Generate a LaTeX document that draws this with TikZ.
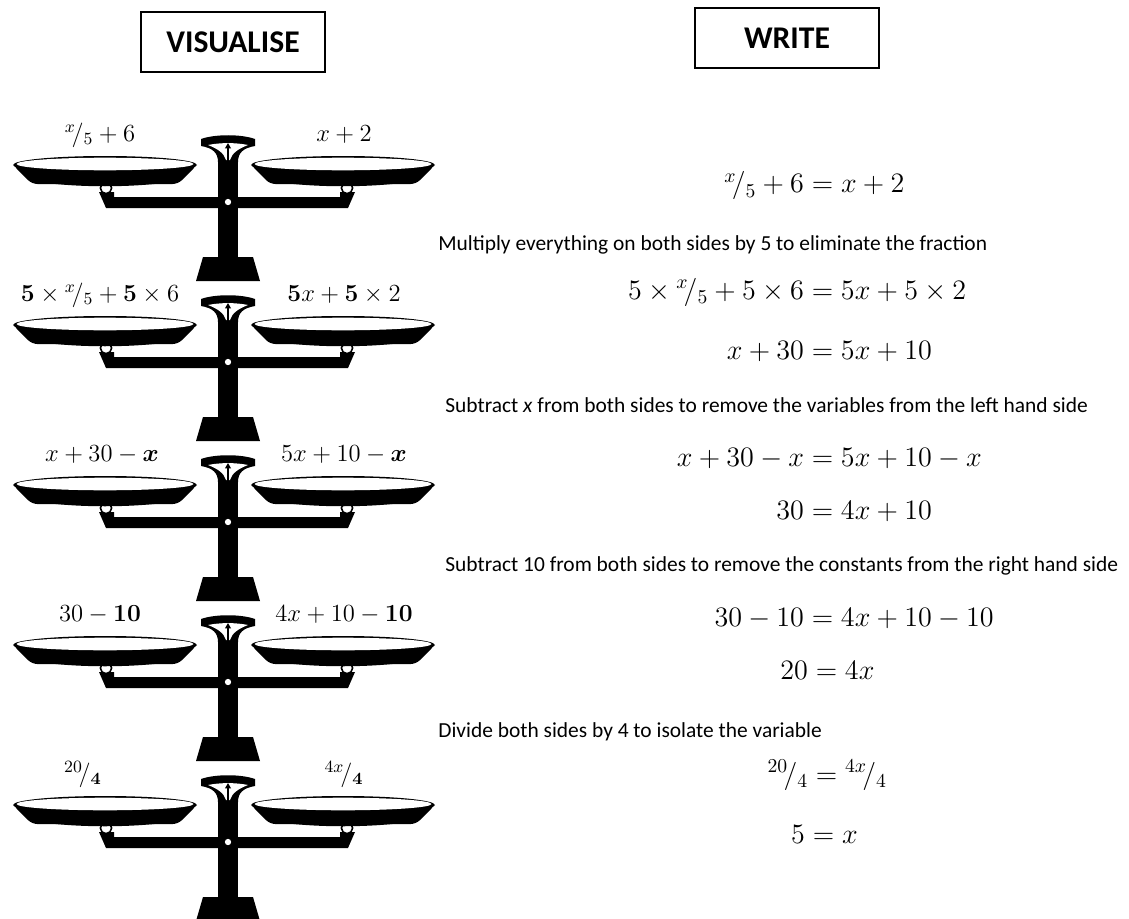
\RequirePackage{fix-cm}
\documentclass[tikz,border=0pt]{standalone}
\usepackage{amsmath}
\usepackage[no-math]{fontspec}
\setmainfont{Carlito}
\usetikzlibrary{arrows.meta}

% slanted fraction a/b
\newcommand{\slfrac}[2]{{}^{#1}\!/_{#2}}
% one line of working, lined up on its equals sign
\newcommand{\eqline}[2]{\makebox[0pt][r]{$#1{}$}\makebox[0pt][l]{${}=#2$}}

\begin{document}
\begin{tikzpicture}[
    x=0.02cm, y=-0.02cm,
    heading/.style={
        draw=black, line width=1.1pt,
        minimum width=3.68cm, minimum height=1.2cm,
        font=\fontsize{18}{21}\selectfont\bfseries},
    panlabel/.style={anchor=base, font=\fontsize{14}{16}\selectfont},
    equation/.style={anchor=base, inner sep=0pt, font=\fontsize{16}{19}\selectfont},
    hint/.style={anchor=west, inner sep=0pt, font=\fontsize{12.2}{14}\selectfont}]
  \useasboundingbox (0,0) rectangle (1129,919);

  \node[heading] (visualise) at (233,42) {VISUALISE};
  \node[heading] (write) at (787,38) {WRITE};

  % five balances, one under the other
  \foreach \k in {0,...,4}{
    \begin{scope}[shift={(0,160*\k)}]
      % foot and post
      \fill (203,257) -- (253,257) -- (260,281) -- (196,281) -- cycle;
      \fill (218,150) rectangle (238,257);
      % beam with its two end pieces
      \fill (99,192) -- (114,192) -- (114,197) -- (340,197) -- (340,192)
            -- (355,192) -- (348,208) -- (106,208) -- cycle;
      \fill[white] (228,202) circle (1.8pt);
      % knobs under the pans
      \filldraw[fill=white, line width=0.9pt] (106,188) circle (3.2pt);
      \filldraw[fill=white, line width=0.9pt] (347,188) circle (3.2pt);
      % pans
      \foreach \c in {105,343}{
        \fill[rounded corners=3pt] (\c-92,165) -- (\c-73,184)
              -- (\c+73,184) -- (\c+92,165) -- cycle;
        \fill (\c-73,181) .. controls (\c-30,188) and (\c+30,188) .. (\c+73,181) -- cycle;
        \fill (\c,165) ellipse [x radius=92, y radius=9];
        \fill[white] (\c,164) ellipse [x radius=88.5, y radius=6.3];
      }
      % pointer cup on top of the post
      \fill (201,139) .. controls (215,134) and (241,134) .. (255,139)
            -- (255,146) .. controls (243,148) and (238,153) .. (238,162)
            -- (218,162) .. controls (218,153) and (213,148) .. (201,146) -- cycle;
      \fill[white] (208,145) .. controls (220,142.5) and (236,142.5) .. (248,145)
            .. controls (238,149) and (232,153) .. (230,160) -- (226,160)
            .. controls (224,153) and (218,149) .. (208,145) -- cycle;
      \draw[line width=0.8pt, -{Triangle[length=3pt,width=3.2pt]}] (228,161) -- (228,143);
    \end{scope}
  }

  % what sits in each pan
  \node[panlabel] (l1) at (100,141) {$\slfrac{x}{5}+6$};
  \node[panlabel] (r1) at (344,141) {$x+2$};
  \node[panlabel] (l2) at (100,301) {$\mathbf{5}\times\slfrac{x}{5}+\mathbf{5}\times 6$};
  \node[panlabel] (r2) at (344,301) {$\mathbf{5}x+\mathbf{5}\times 2$};
  \node[panlabel] (l3) at (102,461) {$x+30-\boldsymbol{x}$};
  \node[panlabel] (r3) at (344,461) {$5x+10-\boldsymbol{x}$};
  \node[panlabel] (l4) at (100,621) {$30-\mathbf{10}$};
  \node[panlabel] (r4) at (344,621) {$4x+10-\mathbf{10}$};
  \node[panlabel] (l5) at (83,781) {$\slfrac{20}{\mathbf{4}}$};
  \node[panlabel] (r5) at (344,781) {$\slfrac{4x}{\mathbf{4}}$};

  % the written working
  \node[equation] (eq1) at (804,193) {\eqline{\slfrac{x}{5}+6}{x+2}};
  \node[hint] (h1) at (438,245) {Multiply everything on both sides by 5 to eliminate the fraction};
  \node[equation] (eq2) at (804,299) {\eqline{5\times\slfrac{x}{5}+5\times 6}{5x+5\times 2}};
  \node[equation] (eq3) at (804,359) {\eqline{x+30}{5x+10}};
  \node[hint] (h2) at (445,405) {Subtract \textit{x} from both sides to remove the variables from the left hand side};
  \node[equation] (eq4) at (804,466) {\eqline{x+30-x}{5x+10-x}};
  \node[equation] (eq5) at (804,519) {\eqline{30}{4x+10}};
  \node[hint] (h3) at (445,566) {Subtract 10 from both sides to remove the constants from the right hand side};
  \node[equation] (eq6) at (804,626) {\eqline{30-10}{4x+10-10}};
  \node[equation] (eq7) at (808,679) {\eqline{20}{4x}};
  \node[hint] (h4) at (438,732) {Divide both sides by 4 to isolate the variable};
  \node[equation] (eq8) at (808,783) {\eqline{\slfrac{20}{4}}{\slfrac{4x}{4}}};
  \node[equation] (eq9) at (805,843) {\eqline{5}{x}};
\end{tikzpicture}
\end{document}
